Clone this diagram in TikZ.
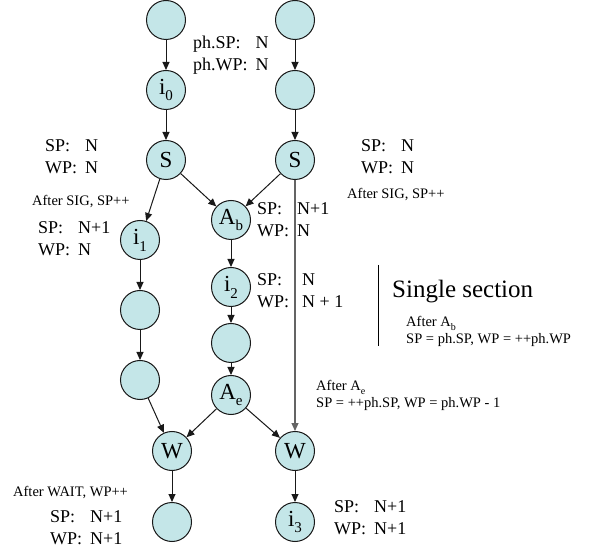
\documentclass[tikz,border=0pt]{standalone}
\usepackage{fontspec}
\setmainfont{Liberation Serif}
\usetikzlibrary{arrows.meta}
\definecolor{nodefill}{RGB}{196,230,232}
\definecolor{edgegray}{RGB}{100,100,100}
\newcommand{\lowidx}[1]{\raisebox{-0.3em}{\fontsize{15}{15}\selectfont #1}}
\newcommand{\smallidx}[1]{\raisebox{-0.25em}{\fontsize{10}{10}\selectfont #1}}
\newcommand{\pairs}[5]{\begin{tabular}[t]{@{}l@{\hspace{#1}}l@{}}#2 & #3\\ #4 & #5\end{tabular}}
\newcommand{\twolines}[2]{\begin{tabular}[t]{@{}l@{}}#1\\ #2\end{tabular}}
\begin{document}
\begin{tikzpicture}[x=1pt,y=-1pt,
 state/.style={circle,draw=black!90,line width=1pt,fill=nodefill,minimum size=39pt,inner sep=0pt,font=\fontsize{23}{23}\selectfont},
 flow/.style={draw=black!90,line width=1pt,-{Triangle[length=8pt,width=7pt]}},
 grayflow/.style={draw=edgegray,line width=1.1pt,-{Triangle[length=8pt,width=7pt]}},
 lab/.style={anchor=base west,inner sep=0pt,font=\fontsize{18}{22}\selectfont},
 note/.style={anchor=base west,inner sep=0pt,font=\fontsize{14.5}{17}\selectfont},
 bignote/.style={anchor=base west,inner sep=0pt,font=\fontsize{25}{28}\selectfont}]
\useasboundingbox (0,0) rectangle (592,553);
% nodes
\node[state] (t1) at (166,20) {};
\node[state] (t2) at (295,20) {};
\node[state] (i0) at (166,90) {i\lowidx{0}};
\node[state] (r2) at (295,90) {};
\node[state] (s1) at (166,160) {S};
\node[state] (s2) at (295,160) {S};
\node[state] (i1) at (140,240) {i\lowidx{1}};
\node[state] (l2) at (140,310) {};
\node[state] (l3) at (140,380) {};
\node[state] (ab) at (231,220) {A\lowidx{b}};
\node[state] (i2) at (231,287) {i\lowidx{2}};
\node[state] (m3) at (231,343) {};
\node[state] (ae) at (231,395) {A\lowidx{e}};
\node[state] (w1) at (172,451) {W};
\node[state] (w2) at (295,451) {W};
\node[state] (b1) at (172,522) {};
\node[state] (i3) at (295,522) {i\lowidx{3}};
% edges
\draw[flow] (t1) -- (i0);
\draw[flow] (i0) -- (s1);
\draw[flow] (t2) -- (r2);
\draw[flow] (r2) -- (s2);
\draw[flow] (s1) -- (i1);
\draw[flow] (s1) -- (ab);
\draw[flow] (s2) -- (ab);
\draw[grayflow] (s2) -- (w2);
\draw[flow] (i1) -- (l2);
\draw[flow] (l2) -- (l3);
\draw[flow] (l3) -- (w1);
\draw[flow] (ab) -- (i2);
\draw[flow] (i2) -- (m3);
\draw[flow] (m3) -- (ae);
\draw[flow] (ae) -- (w1);
\draw[flow] (ae) -- (w2);
\draw[flow] (w1) -- (b1);
\draw[flow] (w2) -- (i3);
% labels
\node[lab] (phlab) at (193,49) {\pairs{8pt}{ph.SP:}{N}{ph.WP:}{N}};
\node[lab] (s1lab) at (45,152) {\pairs{8pt}{SP:}{N}{WP:}{N}};
\node[lab] (s2lab) at (361,152) {\pairs{8pt}{SP:}{N}{WP:}{N}};
\node[note] (sig1) at (32,206) {After SIG, SP++};
\node[note] (sig2) at (347,199) {After SIG, SP++};
\node[lab] (i1lab) at (38,234) {\pairs{8pt}{SP:}{N+1}{WP:}{N}};
\node[lab] (ablab) at (257,215) {\pairs{8pt}{SP:}{N+1}{WP:}{N}};
\node[lab] (i2lab) at (257,286) {\pairs{13pt}{SP:}{N}{WP:}{N + 1}};
\draw[black,line width=1pt] (378,265) coordinate (secA) -- (378,346) coordinate (secB);
\node[bignote] (single) at (392,298) {Single section};
\node[note] (abnote) at (406,327) {\twolines{After A\smallidx{b}}{SP = ph.SP, WP = ++ph.WP}};
\node[note] (aenote) at (316,391) {\twolines{After A\smallidx{e}}{SP = ++ph.SP, WP = ph.WP - 1}};
\node[note] (wait) at (13,496) {After WAIT, WP++};
\node[lab] (b1lab) at (50,522) {\pairs{8pt}{SP:}{N+1}{WP:}{N+1}};
\node[lab] (i3lab) at (334,512) {\pairs{8pt}{SP:}{N+1}{WP:}{N+1}};
\end{tikzpicture}
\end{document}
